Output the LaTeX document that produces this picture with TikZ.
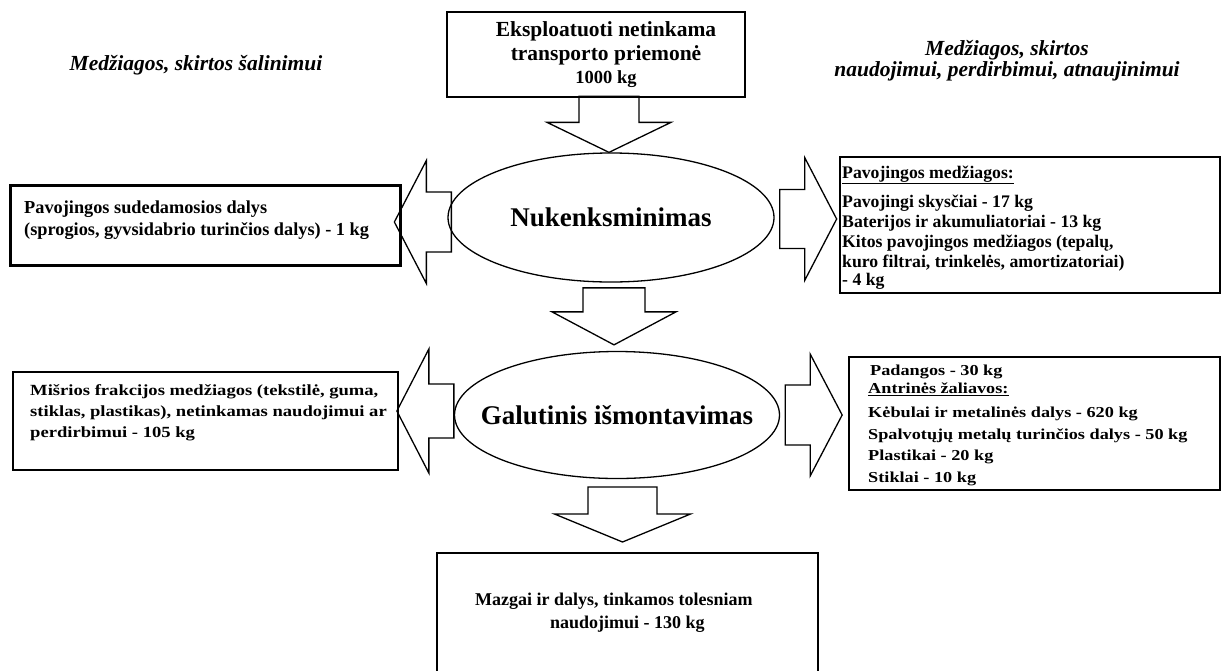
\documentclass[tikz,border=0pt]{standalone}
\usepackage{fontspec}
\setmainfont{Liberation Serif}
\newfontfamily\widefont[FakeStretch=1.2]{Liberation Serif}
\usepackage{tikz}
\usetikzlibrary{shapes.geometric}

\begin{document}
\begin{tikzpicture}[x=1pt,y=-1pt,
  box/.style={draw,rectangle,inner sep=0pt,line width=2pt},
  stage/.style={draw,ellipse,inner sep=0pt,line width=1.3pt,
    font=\bfseries\fontsize{27}{30}\selectfont},
  blockarrow/.style={draw,line width=1.3pt,line join=miter},
  heading/.style={align=center,inner sep=0pt,anchor=base,
    font=\bfseries\itshape\fontsize{21.5}{21}\selectfont},
  boxtext/.style={align=left,inner sep=0pt,anchor=base west}]
\useasboundingbox (0,0) rectangle (1222,670);
\clip (0,0) rectangle (1222,670);
\fill[white] (0,0) rectangle (1222,670);

\node[heading] (salin) at (196,70) {Medžiagos, skirtos šalinimui};
\node[heading] (naud) at (1007,76) {Medžiagos, skirtos\\naudojimui, perdirbimui, atnaujinimui};

\node[box,minimum width=298,minimum height=85] (elv) at (596,54.5) {};
\node[align=center,inner sep=0pt,anchor=base,font=\bfseries\fontsize{21.5}{24}\selectfont] (elvlbl) at (606,83)
  {Eksploatuoti netinkama\\transporto priemonė\\[-1pt]{\fontsize{18.5}{24}\selectfont 1000 kg}};

\node[stage,minimum width=326,minimum height=129] (nuk) at (611,217.5) {Nukenksminimas};
\node[stage,inner xsep=-25pt,minimum width=325,minimum height=127] (galut) at (617,415) {Galutinis išmontavimas};

\node[box,line width=3pt,minimum width=390,minimum height=80] (pav) at (205,225) {};
\node[boxtext,font=\bfseries\fontsize{18.3}{22}\selectfont] (pavlbl) at (24,235)
  {Pavojingos sudedamosios dalys\\(sprogios, gyvsidabrio turinčios dalys) - 1 kg};

\node[box,line width=2.5pt,minimum width=380,minimum height=136] (pavmed) at (1030,225) {};
\node[boxtext,font=\bfseries\fontsize{17.7}{20}\selectfont] (pavmedlbl) at (842,285)
  {\underline{Pavojingos medžiagos:}\\[9pt]Pavojingi skysčiai - 17 kg\\Baterijos ir akumuliatoriai - 13 kg\\Kitos pavojingos medžiagos (tepalų,\\kuro filtrai, trinkelės, amortizatoriai)\\[-2pt]- 4 kg};

\node[box,line width=2.5pt,minimum width=385,minimum height=98] (misr) at (205.5,421) {};
\node[boxtext,font=\widefont\bfseries\fontsize{15.5}{21}\selectfont] (misrlbl) at (30,437)
  {Mišrios frakcijos medžiagos (tekstilė, guma,\\stiklas, plastikas), netinkamas naudojimui ar\\perdirbimui - 105 kg};

\node[box,line width=2.5pt,minimum width=371,minimum height=133] (antr) at (1034.5,423.5) {};
\node[boxtext,font=\widefont\bfseries\fontsize{15.2}{21.5}\selectfont] (antrlbl) at (868,482)
  {\hspace*{2pt}Padangos - 30 kg\\[-3.5pt]\underline{Antrinės žaliavos:}\\[2.5pt]Kėbulai ir metalinės dalys - 620 kg\\Spalvotųjų metalų turinčios dalys - 50 kg\\Plastikai - 20 kg\\Stiklai - 10 kg};

\node[box,minimum width=381,minimum height=125] (mazg) at (627.5,615.5) {};
\node[boxtext,font=\bfseries\fontsize{18}{23}\selectfont] (mazglbl) at (475,628)
  {Mazgai ir dalys, tinkamos tolesniam\\\hspace*{75pt}naudojimui - 130 kg};

\draw[blockarrow] ([xshift=-2]nuk.north) -- ++(-62,-30) -- ++(32,0) -- ++(0,-26) -- ++(60,0) -- ++(0,26) -- ++(32,0) -- cycle;
\draw[blockarrow] ([shift={(4,4.5)}]nuk.west) ++(0,-30) -- ++(-25,0) -- ++(0,-31.5) -- ++(-32,61.5) -- ++(32,61.5) -- ++(0,-31.5) -- ++(25,0) -- cycle;
\draw[blockarrow] ([shift={(5,1.5)}]nuk.east) ++(0,-29.5) -- ++(25,0) -- ++(0,-32) -- ++(32,61.5) -- ++(-32,61.5) -- ++(0,-32) -- ++(-25,0) -- cycle;
\draw[blockarrow] ([shift={(-3,-6)}]galut.north) -- ++(-62,-33) -- ++(31,0) -- ++(0,-24) -- ++(62,0) -- ++(0,24) -- ++(31,0) -- cycle;
\draw[blockarrow] ([yshift=4]galut.west) ++(0,-27) -- ++(-25,0) -- ++(0,-35) -- ++(-32,62) -- ++(32,62) -- ++(0,-35) -- ++(25,0) -- cycle;
\draw[blockarrow] ([xshift=5]galut.east) ++(0,-30) -- ++(25,0) -- ++(0,-31) -- ++(32,61) -- ++(-32,61) -- ++(0,-31) -- ++(-25,0) -- cycle;
\draw[blockarrow] ([shift={(-5,-10)}]mazg.north) -- ++(-68,-28) -- ++(33.5,0) -- ++(0,-27) -- ++(69,0) -- ++(0,27) -- ++(33.5,0) -- cycle;
\end{tikzpicture}
\end{document}
